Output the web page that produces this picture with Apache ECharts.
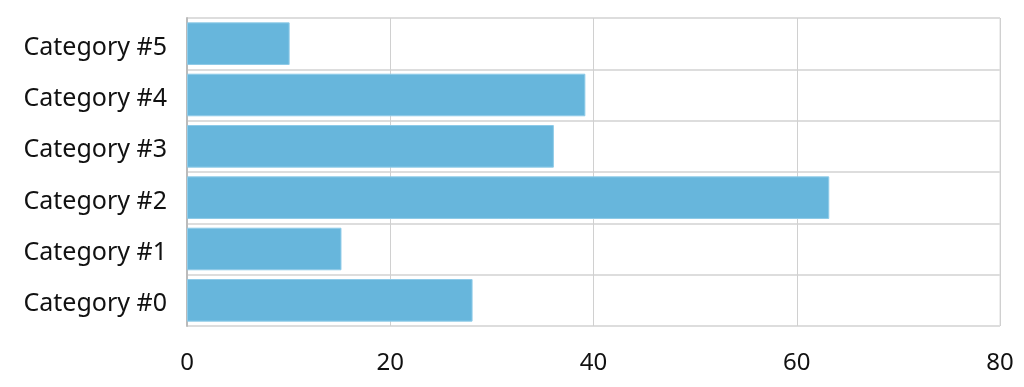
<!DOCTYPE html>
<html><head><meta charset="utf-8">
<script src="https://cdn.jsdelivr.net/npm/echarts@6/dist/echarts.min.js"></script>
<style>html,body{margin:0;padding:0;background:#fff}#c{width:1024px;height:387px}</style>
</head><body><div id="c"></div>
<script>
const categories = ['Category #0','Category #1','Category #2','Category #3','Category #4','Category #5'];
const values = [28.1, 15.2, 63.2, 36.1, 39.2, 10.1];
const xTicks = [0, 20, 40, 60, 80];

const chart = echarts.init(document.getElementById('c'), null, {renderer:'canvas'});
chart.setOption({
  animation:false,
  grid:{left:187, right:24, top:18, bottom:61, show:true, borderColor:'#dddddd', borderWidth:1},
  xAxis:{type:'value', min:xTicks[0], max:xTicks[xTicks.length-1], interval:20,
    axisLine:{show:false}, axisTick:{show:false},
    splitLine:{show:true, lineStyle:{color:'#d0d0d0', width:1}},
    axisLabel:{color:'#111', fontSize:24, fontFamily:'Noto Sans', margin:25}},
  yAxis:{type:'category', data:categories,
    axisLine:{show:true, lineStyle:{color:'#bbbbbb', width:2}}, axisTick:{show:false},
    splitLine:{show:true, lineStyle:{color:'#dddddd', width:2}},
    axisLabel:{color:'#111', fontSize:25, fontFamily:'Noto Sans', margin:20,
      formatter: v => '{a|' + v + '}',
      rich:{a:{color:'#111', fontSize:25, fontFamily:'Noto Sans', padding:[8,0,0,0]}}}},
  series:[{type:'bar', data:values, barCategoryGap:'17%',
    itemStyle:{color:'#67b6dc', borderColor:'#8fcbe8', borderWidth:1}}]
});
</script></body></html>
